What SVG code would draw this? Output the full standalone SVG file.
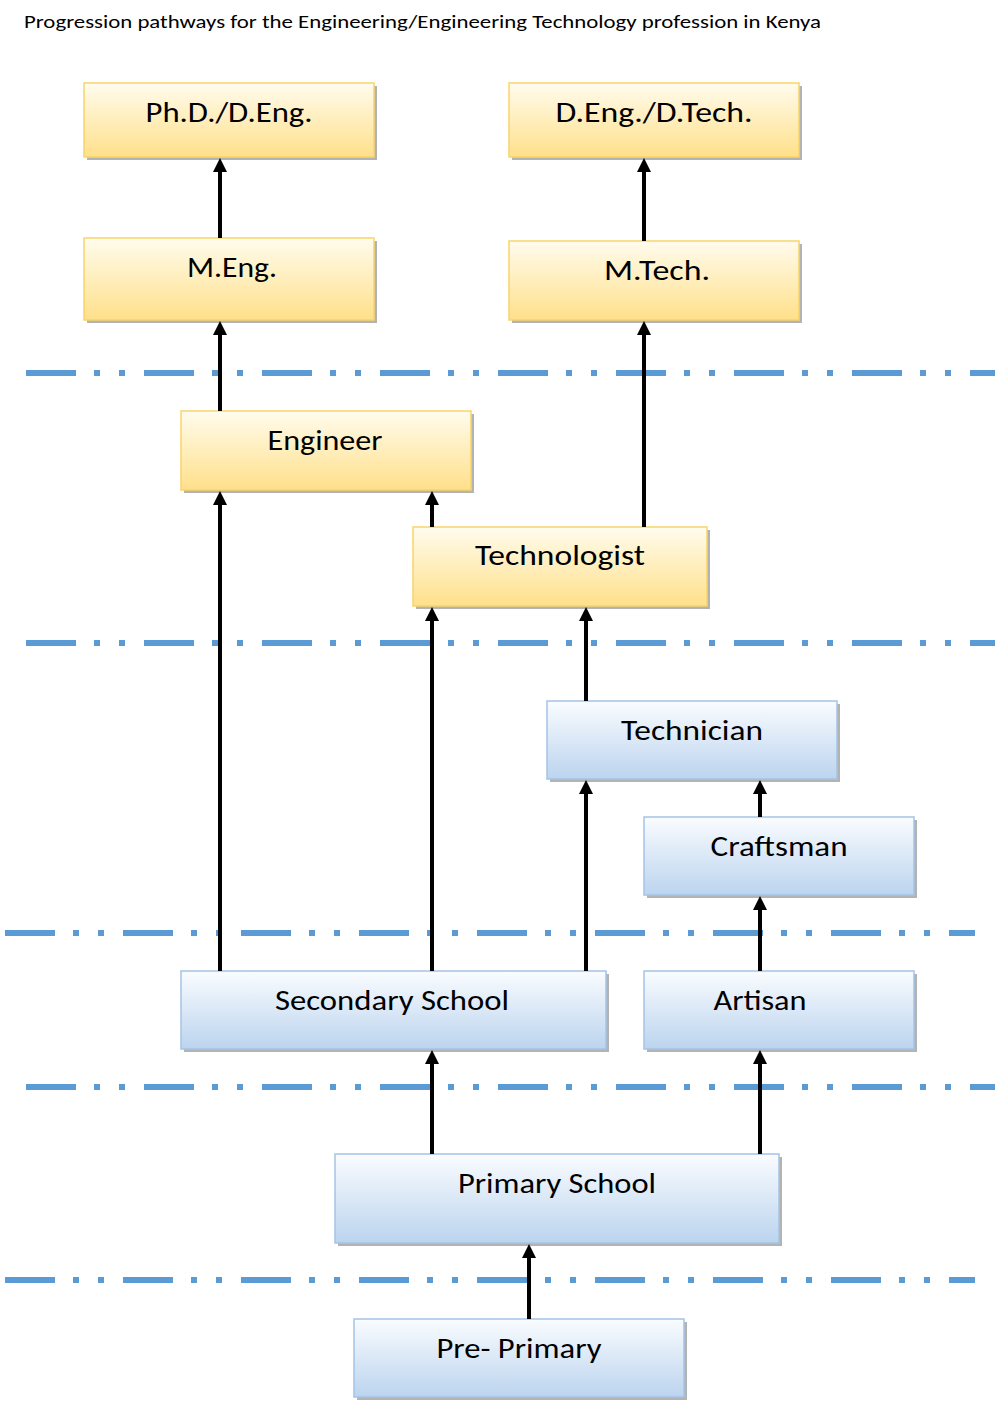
<svg xmlns="http://www.w3.org/2000/svg" width="1000" height="1409" viewBox="0 0 1000 1409">
<defs>
<linearGradient id="gy" x1="0" y1="0" x2="0" y2="1">
<stop offset="0" stop-color="#FFFCEE"/>
<stop offset="1" stop-color="#FFE08A"/>
</linearGradient>
<linearGradient id="gb" x1="0" y1="0" x2="0" y2="1">
<stop offset="0" stop-color="#FAFCFF"/>
<stop offset="1" stop-color="#BBD4EE"/>
</linearGradient>
<marker id="ah" markerWidth="4" markerHeight="4" refX="0" refY="0" orient="auto" markerUnits="userSpaceOnUse" viewBox="0 0 4 4" overflow="visible">
<path d="M-1,-7 L13,0 L-1,7 Z" fill="#000"/>
</marker>
</defs>
<style>
.sh{fill:#9a9a9a;opacity:0.75}
.y{fill:url(#gy);stroke:#F8D569;stroke-width:1.5}
.b{fill:url(#gb);stroke:#A4C4E6;stroke-width:1.5}
.t{font-family:Calibri,Carlito,"Liberation Sans",sans-serif;font-size:28px;fill:#000;text-anchor:middle}
.title{font-family:Calibri,Carlito,"Liberation Sans",sans-serif;font-size:18px;fill:#000}
.dl{stroke:#5B9BD5;stroke-width:6;stroke-dasharray:50 18 6 19 6 19;fill:none}
.c{stroke:#000;stroke-width:4;fill:none}
</style>
<rect width="1000" height="1409" fill="#fff"/>
<text class="title" x="24" y="28" textLength="797" lengthAdjust="spacingAndGlyphs">Progression pathways for the Engineering/Engineering Technology profession in Kenya</text>

<g id="dividers">
<line class="dl" x1="26" y1="373" x2="995" y2="373"/>
<line class="dl" x1="26" y1="643" x2="995" y2="643"/>
<line class="dl" x1="5" y1="933" x2="975" y2="933"/>
<line class="dl" x1="26" y1="1087" x2="995" y2="1087"/>
<line class="dl" x1="5" y1="1280" x2="975" y2="1280"/>
</g>

<g id="phd"><rect class="sh" x="87" y="86" width="290" height="74"/><rect class="y" x="84" y="83" width="290" height="74"/><text class="t" x="229" y="122" textLength="167" lengthAdjust="spacingAndGlyphs">Ph.D./D.Eng.</text></g>
<g id="dtech"><rect class="sh" x="512" y="86" width="290" height="74"/><rect class="y" x="509" y="83" width="290" height="74"/><text class="t" x="654" y="122" textLength="197" lengthAdjust="spacingAndGlyphs">D.Eng./D.Tech.</text></g>
<g id="meng"><rect class="sh" x="87" y="241" width="290" height="82"/><rect class="y" x="84" y="238" width="290" height="82"/><text class="t" x="232" y="277" textLength="90" lengthAdjust="spacingAndGlyphs">M.Eng.</text></g>
<g id="mtech"><rect class="sh" x="512" y="244" width="290" height="79"/><rect class="y" x="509" y="241" width="290" height="79"/><text class="t" x="657" y="280" textLength="106" lengthAdjust="spacingAndGlyphs">M.Tech.</text></g>
<g id="engineer"><rect class="sh" x="184" y="414" width="290" height="79"/><rect class="y" x="181" y="411" width="290" height="79"/><text class="t" x="325" y="450" textLength="115" lengthAdjust="spacingAndGlyphs">Engineer</text></g>
<g id="technologist"><rect class="sh" x="416" y="530" width="294" height="79"/><rect class="y" x="413" y="527" width="294" height="79"/><text class="t" x="560" y="565" textLength="170" lengthAdjust="spacingAndGlyphs">Technologist</text></g>
<g id="technician"><rect class="sh" x="550" y="704" width="290" height="78"/><rect class="b" x="547" y="701" width="290" height="78"/><text class="t" x="692" y="740" textLength="142" lengthAdjust="spacingAndGlyphs">Technician</text></g>
<g id="craftsman"><rect class="sh" x="647" y="820" width="270" height="78"/><rect class="b" x="644" y="817" width="270" height="78"/><text class="t" x="779" y="856" textLength="137" lengthAdjust="spacingAndGlyphs">Craftsman</text></g>
<g id="secondary"><rect class="sh" x="184" y="974" width="425" height="78"/><rect class="b" x="181" y="971" width="425" height="78"/><text class="t" x="392" y="1010" textLength="234" lengthAdjust="spacingAndGlyphs">Secondary School</text></g>
<g id="artisan"><rect class="sh" x="647" y="974" width="270" height="78"/><rect class="b" x="644" y="971" width="270" height="78"/><text class="t" x="760" y="1010" textLength="93" lengthAdjust="spacingAndGlyphs">Artisan</text></g>
<g id="primary"><rect class="sh" x="338" y="1157" width="444" height="89"/><rect class="b" x="335" y="1154" width="444" height="89"/><text class="t" x="557" y="1193" textLength="198" lengthAdjust="spacingAndGlyphs">Primary School</text></g>
<g id="preprimary"><rect class="sh" x="357" y="1322" width="330" height="78"/><rect class="b" x="354" y="1319" width="330" height="78"/><text class="t" x="519" y="1358" textLength="165" lengthAdjust="spacingAndGlyphs">Pre- Primary</text></g>

<g id="connectors">
<line class="c" x1="220" y1="238" x2="220" y2="171" marker-end="url(#ah)"/>
<line class="c" x1="220" y1="411" x2="220" y2="334" marker-end="url(#ah)"/>
<line class="c" x1="644" y1="241" x2="644" y2="171" marker-end="url(#ah)"/>
<line class="c" x1="644" y1="527" x2="644" y2="334" marker-end="url(#ah)"/>
<line class="c" x1="220" y1="971" x2="220" y2="504" marker-end="url(#ah)"/>
<line class="c" x1="432" y1="527" x2="432" y2="504" marker-end="url(#ah)"/>
<line class="c" x1="432" y1="971" x2="432" y2="620" marker-end="url(#ah)"/>
<line class="c" x1="586" y1="701" x2="586" y2="620" marker-end="url(#ah)"/>
<line class="c" x1="586" y1="971" x2="586" y2="793" marker-end="url(#ah)"/>
<line class="c" x1="760" y1="817" x2="760" y2="793" marker-end="url(#ah)"/>
<line class="c" x1="760" y1="971" x2="760" y2="909" marker-end="url(#ah)"/>
<line class="c" x1="432" y1="1154" x2="432" y2="1063" marker-end="url(#ah)"/>
<line class="c" x1="760" y1="1154" x2="760" y2="1063" marker-end="url(#ah)"/>
<line class="c" x1="529" y1="1319" x2="529" y2="1257" marker-end="url(#ah)"/>
</g>
</svg>
